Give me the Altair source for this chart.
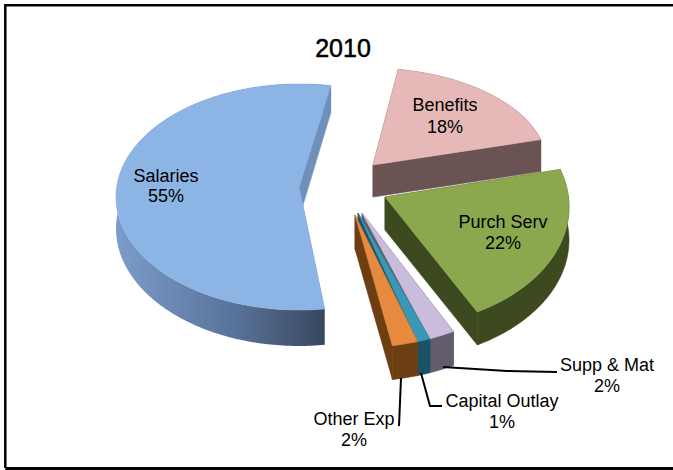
import math
import altair as alt
import pandas as pd

# Budget shares for 2010, in drawing order around the pie
categories = ["Salaries", "Benefits", "Purch Serv", "Supp & Mat", "Capital Outlay", "Other Exp"]
shares = [55, 18, 22, 2, 1, 2]
chart_title = "2010"

W, H = 673, 470
START_ANGLE = 172  # clockwise from twelve o'clock, where the first slice begins

# Per-slice projection of the tilted, exploded disc:
# apex, ellipse centre, radii, angle nudge, depth, depth change front-to-back
GEOMETRY = {
    "Salaries":       dict(apex=(299, 187), c=(299, 197), r=(183, 113), nudge=0, d=31.5, dd=4.5),
    "Benefits":       dict(apex=(373, 165), c=(367, 165), r=(180, 97), nudge=0, d=32, dd=0),
    "Purch Serv":     dict(apex=(385, 197), c=(391, 207), r=(178, 120), nudge=-3, d=33, dd=0),
    "Supp & Mat":     dict(apex=(362, 213), c=(364, 193), r=(204, 154), nudge=0, d=34, dd=0),
    "Capital Outlay": dict(apex=(358, 213), c=(364, 193), r=(204, 154), nudge=0, d=34, dd=0),
    "Other Exp":      dict(apex=(355, 215), c=(364, 193), r=(204, 154), nudge=0, d=34, dd=0),
}
TOP_COLORS = {
    "Salaries": "#8cb4e4", "Benefits": "#e6b9b8", "Purch Serv": "#8ba84f",
    "Supp & Mat": "#c9bddb", "Capital Outlay": "#3a98b6", "Other Exp": "#e58a3f",
}
WALL_COLORS = {
    "Salaries": "#7090bc", "Benefits": "#6b5353", "Purch Serv": "#3d4a1f",
    "Supp & Mat": "#625c6c", "Capital Outlay": "#1a5464", "Other Exp": "#6e3e13",
}
FRONT_WALLS = {
    "Salaries": alt.LinearGradient(
        gradient="linear", x1=0, x2=1, y1=0, y2=0,
        stops=[
            alt.GradientStop(offset=0, color="#7c9ccb"),
            alt.GradientStop(offset=0.55, color="#587399"),
            alt.GradientStop(offset=1, color="#36445b"),
        ],
    )
}
DRAW_ORDER = ["Salaries", "Benefits", "Purch Serv", "Supp & Mat", "Capital Outlay", "Other Exp"]

# Text anchors: label centre x, first line y, second line y
LABEL_POS = {
    "Salaries": (166, 177, 197), "Benefits": (445, 106, 128), "Purch Serv": (503, 223, 244),
    "Supp & Mat": (607, 366, 387), "Capital Outlay": (502, 402, 423), "Other Exp": (354, 420, 441),
}
LEADERS = {
    "Supp & Mat": [(443, 367), (507, 371), (557, 372)],
    "Capital Outlay": [(421, 373), (430, 406), (442, 406)],
    "Other Exp": [(401, 378), (399, 426)],
}
# The frame runs off the right side of the canvas
FRAME_LINES = [
    ([(W, 5.3), (5.3, 5.3), (5.3, 468)], 2.5),
    ([(5.3, 468.5), (W, 468.5)], 3.0),
]

x_scale = alt.Scale(domain=[0, W], range=[0, W])
y_scale = alt.Scale(domain=[0, H], range=[0, H])


def position():
    return dict(
        x=alt.X("x:Q", scale=x_scale, axis=None),
        y=alt.Y("y:Q", scale=y_scale, axis=None),
        order="i:Q",
    )


def path_frame(points):
    return pd.DataFrame([{"x": px, "y": py, "i": n} for n, (px, py) in enumerate(points)])


def polygon(points, fill, stroke=None):
    """One filled outline, placed through the shared scales."""
    opts = dict(fill=fill, strokeWidth=0.6, interpolate="linear")
    if stroke:
        opts["stroke"] = stroke
    else:
        opts["strokeOpacity"] = 0
    return alt.Chart(path_frame(list(points) + [points[0]])).mark_line(**opts).encode(**position())


def slice_layers(name, start, end):
    g = GEOMETRY[name]
    ax, ay = g["apex"]
    cx, cy = g["c"]
    rx, ry = g["r"]
    a0, a1 = start + g["nudge"], end + g["nudge"]
    n = max(8, int(abs(a1 - a0)))
    thetas = [math.radians(a0 + (a1 - a0) * k / n) for k in range(n + 1)]
    rim = [(cx + rx * math.sin(t), cy - ry * math.cos(t)) for t in thetas]
    low = [(px, py + g["d"] - g["dd"] * math.cos(t)) for (px, py), t in zip(rim, thetas)]
    apex = (ax, ay)
    apex_low = (ax, ay + g["d"])
    wall = WALL_COLORS[name]
    # Painter's order: hidden radial wall, outer wall, facing radial wall, top face
    return [
        polygon([apex, rim[0], low[0], apex_low], wall, wall),
        polygon(rim + low[::-1], FRONT_WALLS.get(name, wall), None if name in FRONT_WALLS else wall),
        polygon([apex, rim[-1], low[-1], apex_low], wall, wall),
        polygon([apex] + rim, TOP_COLORS[name], TOP_COLORS[name]),
    ]


# Slice angles come straight from the shares
total = sum(shares)
angles = {}
running = START_ANGLE
for name, share in zip(categories, shares):
    sweep = 360 * share / total
    angles[name] = (running, running + sweep)
    running += sweep

layers = []
for points, stroke_width in FRAME_LINES:
    layers.append(
        alt.Chart(path_frame(points)).mark_line(color="black", strokeWidth=stroke_width).encode(**position())
    )
for name in DRAW_ORDER:
    layers += slice_layers(name, *angles[name])

# Leader lines of the outside labels
for name, path in LEADERS.items():
    layers.append(
        alt.Chart(path_frame(path)).mark_line(color="black", strokeWidth=2).encode(**position())
    )

rows = []
for name, share in zip(categories, shares):
    lx, ly1, ly2 = LABEL_POS[name]
    rows.append({"x": lx, "y": ly1, "t": name})
    rows.append({"x": lx, "y": ly2, "t": f"{share}%"})
labels = pd.DataFrame(rows)

text_position = dict(
    x=alt.X("x:Q", scale=x_scale, axis=None),
    y=alt.Y("y:Q", scale=y_scale, axis=None),
    text="t:N",
)
layers.append(
    alt.Chart(labels)
    .mark_text(font="Liberation Sans", fontSize=18, color="black", align="center", baseline="middle")
    .encode(**text_position)
)
# The title is struck slightly heavier than the labels
layers.append(
    alt.Chart(pd.DataFrame([{"x": 343, "y": 49, "t": chart_title}]))
    .mark_text(
        font="Liberation Sans", fontSize=25, color="black", stroke="black", strokeWidth=0.5,
        align="center", baseline="middle",
    )
    .encode(**text_position)
)

chart = (
    alt.layer(*layers)
    .properties(width=W, height=H, padding=0, autosize=alt.AutoSizeParams(type="none"), background="white")
    .configure_view(stroke=None)
)
chart.save("out.html", embed_options={"renderer": "svg", "actions": False})
